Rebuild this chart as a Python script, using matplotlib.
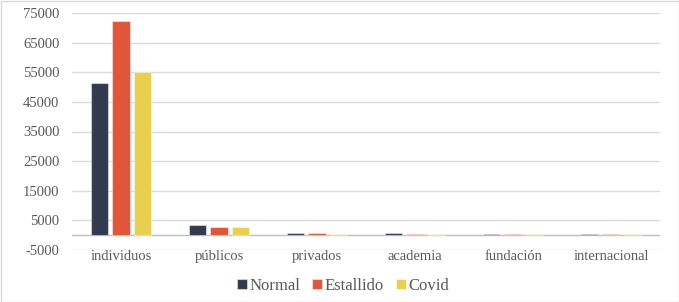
import matplotlib
matplotlib.use("Agg")
import matplotlib.pyplot as plt
import numpy as np
from matplotlib.patches import Rectangle

categories = ["individuos", "públicos", "privados", "academia", "fundación", "internacional"]
normal = [51500, 3400, 600, 600, 400, 400]
estallido = [72400, 2700, 600, 400, 400, 400]
covid = [55000, 2700, 300, 300, 300, 300]
series_names = ["Normal", "Estallido", "Covid"]
colors = ["#323A4F", "#E0563A", "#E8CF50"]
yticks = [-5000, 5000, 15000, 25000, 35000, 45000, 55000, 65000, 75000]

plt.rcParams['font.family'] = ['Liberation Serif', 'DejaVu Serif']
text_color = "#595959"

fig = plt.figure(figsize=(6.79, 3.02), dpi=100)
ax = fig.add_axes([72/679, 1-250/302, (660-72)/679, (250-13)/302])

x = np.arange(len(categories))
w = 0.174
step = 0.22
for i, (vals, c, name) in enumerate(zip([normal, estallido, covid], colors, series_names)):
    ax.bar(x + (i-1)*step, vals, width=w, color=c, edgecolor=(1, 1, 1, 0.45), linewidth=0.8,
           label=name, zorder=3)

ax.set_xlim(-0.5, len(categories)-0.5)
ax.set_ylim(-5000, 75000)
ax.set_yticks(yticks)
ax.set_yticklabels([str(t) for t in yticks])
ax.set_xticks(x)
ax.set_xticklabels(categories)
ax.tick_params(axis='both', length=0, colors=text_color, labelsize=10.5)
ax.tick_params(axis='y', pad=9)
ax.tick_params(axis='x', pad=0)
ax.grid(axis='y', color="#d9d9d9", linewidth=1.0, zorder=0)
ax.axhline(0, color="#bfbfbf", linewidth=1.0, zorder=2)
for s in ax.spines.values():
    s.set_visible(False)

leg = ax.legend(loc="center", bbox_to_anchor=(343/679, 1-286/302), bbox_transform=fig.transFigure,
                ncol=3, frameon=False, fontsize=12, handlelength=0.6, handleheight=0.6,
                handletextpad=0.15, columnspacing=0.7, labelcolor=text_color)

fig.patches.append(Rectangle((0.5/679, 0.5/302), 1-1/679, 1-1/302, transform=fig.transFigure,
                             fill=False, edgecolor="#d9d9d9", linewidth=1.0))

fig.savefig("out.png", dpi=100)
